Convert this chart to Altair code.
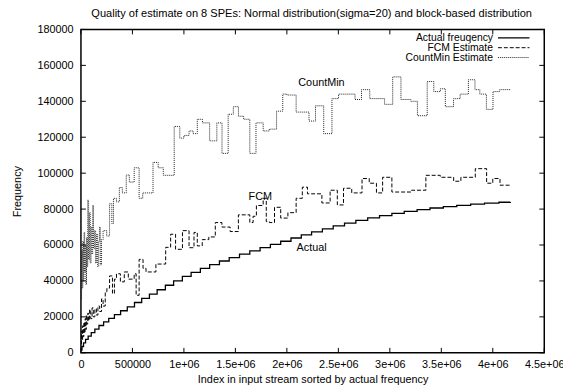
import altair as alt
import pandas as pd

# ---------------- data ----------------
actual_x = [0, 10000, 25000, 45000, 70000, 100000, 135000, 175000, 220000, 270000,
            325000, 385000, 450000, 520000, 590000, 665000, 740000, 820000, 900000, 985000,
            1070000, 1160000, 1250000, 1345000, 1440000, 1540000, 1640000, 1740000, 1840000, 1940000,
            2040000, 2140000, 2240000, 2345000, 2450000, 2560000, 2670000, 2785000, 2900000, 3020000,
            3140000, 3265000, 3390000, 3520000, 3650000, 3785000, 3920000, 4060000, 4170000]
actual_y = [1500, 3500, 5500, 7500, 9300, 11200, 13200, 15200, 17200, 19200,
            21300, 23400, 25600, 28000, 30300, 32700, 35100, 37600, 40000, 42500,
            44800, 47000, 49100, 51100, 53000, 54900, 56700, 58500, 60300, 62100,
            63900, 65600, 67300, 69000, 70600, 72200, 73700, 75100, 76400, 77600,
            78700, 79700, 80600, 81400, 82100, 82700, 83300, 83800, 84000]

fcm_x = [0, 5000, 10000, 16000, 22000, 28000, 34000, 40000, 46000, 52000,
         58000, 66000, 74000, 84000, 95000, 108000, 120000, 135000, 150000, 165000,
         182000, 200000, 215000, 236000, 252000, 278000, 306000, 325000, 345000, 383000,
         421000, 460000, 517000, 536000, 565000, 603000, 632000, 728000, 823000, 871000,
         919000, 986000, 1050000, 1098000, 1130000, 1178000, 1242000, 1305000, 1369000, 1449000,
         1529000, 1640000, 1672000, 1704000, 1770000, 1800000, 1830000, 1880000, 1940000, 2010000,
         2090000, 2150000, 2200000, 2340000, 2420000, 2490000, 2550000, 2630000, 2730000, 2800000,
         2870000, 2930000, 3020000, 3210000, 3350000, 3490000, 3620000, 3690000, 3830000, 3940000,
         4000000, 4070000, 4170000]
fcm_y = [5000, 12000, 7000, 15000, 9000, 17000, 11000, 19000, 13000, 21000,
         16000, 22000, 18000, 24000, 19000, 25000, 20000, 24500, 21000, 26000,
         23000, 30000, 26000, 34000, 36000, 42800, 33000, 41000, 44000, 39500,
         45000, 41000, 44000, 32000, 52000, 47000, 45000, 49400, 58700, 66000,
         57600, 68000, 58500, 67000, 59500, 63000, 64500, 72500, 70000, 67500,
         76800, 72500, 76000, 82000, 86000, 73000, 72500, 81000, 75000, 78000,
         86000, 92200, 88500, 83400, 90500, 82300, 91600, 89000, 97000, 94400,
         89000, 97700, 89500, 90500, 98800, 97700, 95500, 97700, 102500, 94400,
         97000, 93300, 93300]

cm_x = [0, 6000, 12000, 18000, 24000, 30000, 36000, 42000, 48000, 54000,
        60000, 66000, 74000, 82000, 90000, 98000, 106000, 114000, 122000, 132000,
        142000, 152000, 162000, 172000, 180000, 188000, 200000, 215000, 250000, 278000,
        300000, 316000, 345000, 373000, 402000, 440000, 470000, 517000, 565000, 600000,
        700000, 750000, 800000, 906000, 960000, 1000000, 1050000, 1090000, 1130000, 1180000,
        1250000, 1320000, 1370000, 1430000, 1480000, 1530000, 1580000, 1640000, 1700000, 1770000,
        1830000, 1900000, 1960000, 2000000, 2090000, 2215000, 2278000, 2358000, 2438000, 2502000,
        2662000, 2725000, 2805000, 2949000, 3028000, 3108000, 3204000, 3268000, 3363000, 3427000,
        3491000, 3539000, 3619000, 3683000, 3763000, 3827000, 3874000, 3938000, 4002000, 4066000,
        4178000]
cm_y = [30000, 57000, 36000, 62000, 40000, 67000, 45000, 60000, 38000, 64000,
        48000, 85000, 52000, 78000, 50000, 70000, 55000, 82000, 58000, 68000,
        50000, 66000, 48000, 62000, 70000, 49000, 63000, 68000, 65000, 83000,
        72000, 86000, 84000, 92000, 89000, 99000, 95000, 103000, 86000, 89000,
        106000, 103000, 98800, 126000, 119500, 121000, 123500, 122000, 130000, 128000,
        118000, 128000, 111000, 132800, 137000, 131700, 130000, 111000, 128000, 123500,
        124500, 134500, 144000, 143500, 134000, 129000, 137500, 122000, 141500, 144000,
        141000, 146500, 141500, 138300, 153600, 141000, 140000, 132000, 151000, 145400,
        147000, 137000, 141500, 144000, 152000, 146500, 144000, 135500, 145400, 146500,
        146500]

x_ticks = [0, 500000, 1000000, 1500000, 2000000, 2500000, 3000000, 3500000, 4000000, 4500000]
y_ticks = [0, 20000, 40000, 60000, 80000, 100000, 120000, 140000, 160000, 180000]

legend_labels = ["Actual freuqency", "FCM Estimate", "CountMin Estimate"]
annot_text = ["CountMin", "FCM", "Actual"]
annot_x = [2336000, 1742000, 2240000]
annot_y = [150400, 86700, 58500]

TITLE = "Quality of estimate on 8 SPEs: Normal distribution(sigma=20) and block-based distribution"
X_TITLE = "Index in input stream sorted by actual frequency"
Y_TITLE = "Frequency"

# ---------------- styling ----------------
W, H = 470, 328
FONT = "Liberation Sans"
FS = 11
xs = alt.Scale(domain=[0, 4500000], nice=False, zero=False)
ys = alt.Scale(domain=[0, 180000], nice=False, zero=False)

x_axis = alt.Axis(values=x_ticks, tickSize=0, domain=False, grid=False,
                  labelFont=FONT, labelFontSize=FS, labelColor="black", labelPadding=6,
                  labelFlush=False, labelOverlap=False,
                  labelExpr="datum.value < 1000000 ? '' + datum.value : '' + (datum.value / 1000000) + 'e+06'",
                  title=X_TITLE, titleFont=FONT, titleFontSize=FS, titleFontWeight="normal",
                  titleColor="black", titlePadding=4)
y_axis = alt.Axis(values=y_ticks, tickSize=0, domain=False, grid=False, format="d",
                  labelFont=FONT, labelFontSize=FS, labelColor="black", labelPadding=8,
                  labelFlush=False, labelOverlap=False,
                  title=Y_TITLE, titleFont=FONT, titleFontSize=FS, titleFontWeight="normal",
                  titleColor="black", titlePadding=15)

styles = [  # (dash, width, color)
    (None, 1.3, "black"),
    ([4, 2], 1.0, "black"),
    ([1, 1], 1.0, "#222222"),
]

def X(field):
    return alt.X(field, scale=xs, axis=x_axis)

def Y(field):
    return alt.Y(field, scale=ys, axis=y_axis)

def series(xv, yv, style):
    dash, width, color = style
    kw = dict(interpolate="step-after", color=color, strokeWidth=width)
    if dash:
        kw["strokeDash"] = dash
    df = pd.DataFrame({"x": xv, "y": yv})
    return alt.Chart(df).mark_line(**kw).encode(x=X("x:Q"), y=Y("y:Q"))

layers = [
    series(cm_x, cm_y, styles[2]),
    series(fcm_x, fcm_y, styles[1]),
    series(actual_x, actual_y, styles[0]),
]

# inward ticks (gnuplot style, mirrored)
xt = pd.DataFrame({"x": x_ticks})
yt = pd.DataFrame({"y": y_ticks})
for y0, y1 in [(H, H - 5), (0, 5)]:
    layers.append(alt.Chart(xt).mark_rule(color="black", strokeWidth=1).encode(
        x=X("x:Q"), y=alt.value(y0), y2=alt.value(y1)))
for x0, x1 in [(0, 5), (W - 5, W)]:
    layers.append(alt.Chart(yt).mark_rule(color="black", strokeWidth=1).encode(
        y=Y("y:Q"), x=alt.value(x0), x2=alt.value(x1)))

# curve annotations
ann = pd.DataFrame({"t": annot_text, "x": annot_x, "y": annot_y})
layers.append(alt.Chart(ann).mark_text(font=FONT, fontSize=FS, color="black",
                                       align="center", baseline="middle").encode(
    x=X("x:Q"), y=Y("y:Q"), text="t:N"))

# legend (top right, inside the frame)
one = alt.Data(values=[{}])
for i, lab in enumerate(legend_labels):
    ly = 8.5 + 10 * i
    layers.append(alt.Chart(one).mark_text(text=lab, font=FONT, fontSize=10.5, color="black",
                                           align="right", baseline="middle").encode(
        x=alt.value(418), y=alt.value(ly)))
    dash, width, color = styles[i]
    kw = dict(color=color, strokeWidth=width)
    if dash:
        kw["strokeDash"] = dash
    layers.append(alt.Chart(one).mark_rule(**kw).encode(
        x=alt.value(423), x2=alt.value(455), y=alt.value(ly)))

# chart title
layers.append(alt.Chart(one).mark_text(text=TITLE, font=FONT, fontSize=11.2, color="black",
                                       align="center", baseline="middle").encode(
    x=alt.value(W / 2 - 1), y=alt.value(-16)))

chart = alt.layer(*layers).properties(
    width=W, height=H,
    padding={"left": 74, "top": 19, "right": 19, "bottom": 36},
    autosize=alt.AutoSizeParams(type="none"),
    background="white",
).configure_view(stroke="black", strokeWidth=1.5)

chart.save("out.html", embed_options={"renderer": "svg", "actions": False})
